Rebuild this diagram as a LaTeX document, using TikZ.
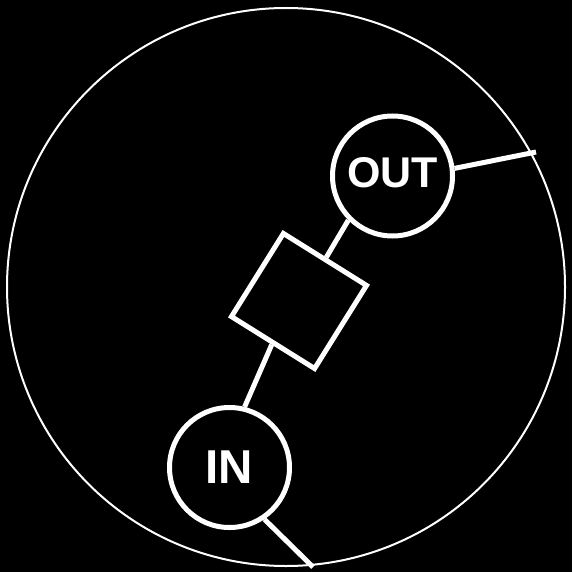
\documentclass[tikz,border=0pt]{standalone}
\usepackage{fontspec}
\setmainfont{Liberation Sans}
\begin{document}
\begin{tikzpicture}[x=1pt,y=-1pt,
  port/.style={circle,draw=white,line width=5pt,minimum size=120pt,inner sep=0pt,text=white,font=\bfseries},
  block/.style={rectangle,draw=white,line width=5pt,minimum size=98pt,inner sep=0pt,rotate=-32},
  wire/.style={draw=white,line width=5pt}]
\fill[black] (0,0) rectangle (572,572);
\useasboundingbox (0,0) rectangle (572,572);
\draw[white,line width=2pt] (286,287) circle[radius=279];
\node[port,font=\fontsize{43}{43}\bfseries,text depth=8pt] (out) at (392.5,176) {OUT};
\node[port,font=\fontsize{47.5}{47.5}\bfseries] (in) at (229.5,467.5) {IN};
\node[block] (sq) at (299,301) {};
\coordinate (e1) at (536,152);
\coordinate (e2) at (313,567);
\draw[wire] (sq.north) -- (out.225);
\draw[wire] (sq.south) -- (in.76);
\draw[wire] (out.7) -- (e1);
\draw[wire] (in.-56) -- (e2);
\end{tikzpicture}
\end{document}
